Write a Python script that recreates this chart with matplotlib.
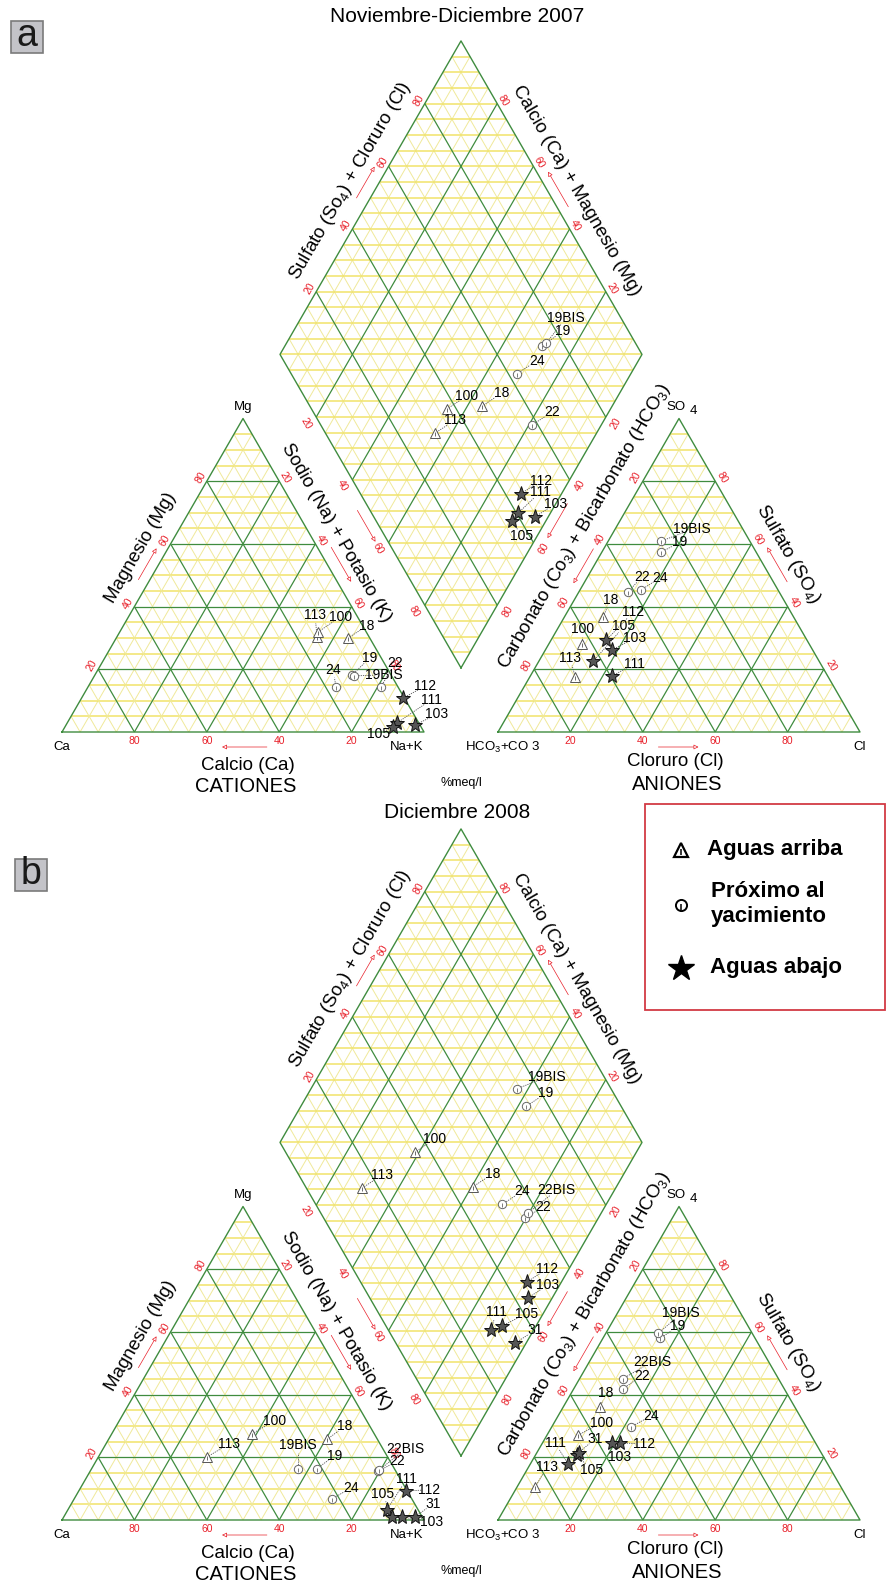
import numpy as np
import matplotlib.pyplot as plt
from matplotlib.patches import Rectangle

plt.rcParams['font.family'] = ['Liberation Sans', 'DejaVu Sans']
plt.rcParams['mathtext.fontset'] = 'custom'
plt.rcParams['mathtext.rm'] = 'Liberation Sans'
plt.rcParams['mathtext.it'] = 'Liberation Sans:italic'

# ---------------- data (% meq/l) ----------------
# panel a : Noviembre-Diciembre 2007
names_a = ['113', '100', '18', '19', '19BIS', '24', '22', '112', '111', '103', '105']
group_a = ['arriba', 'arriba', 'arriba', 'prox', 'prox', 'prox', 'prox',
           'abajo', 'abajo', 'abajo', 'abajo']
ca_a = [14.4, 13.3, 6.0, 10.8, 10.4, 17.1, 4.7, 0.4, 6.0, 1.4, 7.8]
mg_a = [30.3, 31.9, 30.0, 18.2, 17.9, 14.4, 14.4, 10.8, 2.9, 2.2, 1.6]
so4_a = [17.6, 28.2, 36.8, 57.3, 60.8, 45.4, 44.8, 29.2, 17.9, 26.2, 22.5]
cl_a = [12.5, 9.2, 10.7, 16.3, 14.5, 16.9, 13.6, 15.2, 22.6, 18.4, 15.0]

# panel b : Diciembre 2008
names_b = ['113', '100', '18', '19', '19BIS', '24', '22', '22BIS', '112', '111', '103', '105', '31']
group_b = ['arriba', 'arriba', 'arriba', 'prox', 'prox', 'prox', 'prox', 'prox',
           'abajo', 'abajo', 'abajo', 'abajo', 'abajo']
ca_b = [49.9, 33.7, 14.0, 21.4, 26.7, 21.9, 4.8, 4.3, 0.2, 8.8, 5.7, 8.4, 2.0]
mg_b = [20.1, 27.5, 25.7, 16.4, 16.4, 6.8, 15.6, 16.0, 9.3, 3.1, 1.0, 1.0, 1.0]
so4_b = [10.5, 27.1, 35.9, 57.9, 59.5, 29.7, 41.9, 45.1, 24.6, 17.8, 24.6, 20.7, 21.5]
cl_b = [5.0, 8.6, 10.2, 15.8, 14.5, 21.9, 13.6, 12.0, 21.4, 10.5, 19.1, 11.4, 11.5]

tick_vals = [20, 40, 60, 80]
legend_labels = ['Aguas arriba', 'Próximo al\nyacimiento', 'Aguas abajo']

# label offsets (pixels) of the sample names, default (20, -13)
lab_cat_a = {'113': (-2, -22), '100': (22, -15), '18': (19, -12), '19': (18, -17),
             '19BIS': (30, -1), '24': (-3, -17), '22': (14, -24), '112': (22, -12),
             '111': (34, -23), '103': (22, -11), '105': (-14, 7)}
lab_an_a = {'19BIS': (31, -12), '19': (19, -10), '22': (14, -15), '24': (19, -12),
            '18': (7, -17), '112': (27, -28), '105': (31, -35), '103': (23, -12),
            '100': (0, -15), '113': (-5, -19), '111': (22, -12)}
lab_dia_a = {'105': (10, 15), '111': (22, -21), '19BIS': (20, -25), '19': (21, -15)}
lab_cat_b = {'100': (22, -13), '113': (22, -13), '19BIS': (0, -24), '18': (18, -13),
             '19': (18, -13), '24': (19, -11), '22': (19, -10), '22BIS': (26, -21),
             '112': (23, -1), '111': (20, -31), '105': (-9, -23), '31': (18, -13),
             '103': (30, 5)}
lab_an_b = {'19BIS': (23, -20), '19': (18, -12), '22BIS': (29, -17), '22': (19, -13),
            '18': (6, -14), '24': (20, -11), '100': (23, -12), '31': (17, -14),
            '111': (-13, -21), '112': (24, 1), '103': (8, 14), '113': (12, -20),
            '105': (15, 15)}
lab_dia_b = {'22BIS': (29, -23), '22': (19, -11), '111': (6, -18), '105': (24, -12),
             '19BIS': (30, -12)}

# ---------------- style ----------------
YEL_H = '#f1e36a'
YEL_D = '#f0e99a'
GREEN = '#3f8c3f'
RED = '#e8202a'
L = 362.0
H = L * np.sqrt(3) / 2

fig = plt.figure(figsize=(8.87, 15.87), dpi=100)
ax = fig.add_axes([0, 0, 1, 1])
ax.set_xlim(0, 887)
ax.set_ylim(1587, 0)
ax.axis('off')

P = np.array


def outward(a, b, c):
    u = (b - a) / np.linalg.norm(b - a)
    n = P([-u[1], u[0]])
    if np.dot(n, (a + b) / 2 - c) < 0:
        n = -n
    return n


def seg(p, q, color, lw, z=1):
    ax.plot([p[0], q[0]], [p[1], q[1]], color=color, lw=lw, zorder=z,
            solid_capstyle='butt')


def tri_grid(A, B, T):
    for k in range(1, 20):
        t = k / 20
        g = (k % 4 == 0)
        col_d, col_h = (GREEN, GREEN) if g else (YEL_D, YEL_H)
        z = 2 if g else 1
        lw = 0.9 if g else 0.7
        seg(A + t * (T - A), B + t * (T - B), col_h, lw if g else 1.1, z)
        seg(A + t * (B - A), T + t * (B - T), col_d, lw, z)
        seg(A + t * (B - A), A + t * (T - A), col_d, lw, z)
    ax.plot([A[0], B[0], T[0], A[0]], [A[1], B[1], T[1], A[1]], color=GREEN, lw=1.0, zorder=3)


def dia_grid(Bm, Lf, Tp, Rt):
    for k in range(1, 20):
        t = k / 20
        g = (k % 4 == 0)
        col = GREEN if g else YEL_D
        z = 2 if g else 1
        p = Bm + t * (Lf - Bm)
        seg(p, p + (Rt - Bm), col, 0.9 if g else 0.7, z)
        p = Bm + t * (Rt - Bm)
        seg(p, p + (Lf - Bm), col, 0.9 if g else 0.7, z)
    for m in range(1, 40):
        v = m / 20
        hw = L / 2 * (v if v <= 1 else 2 - v)
        y = Bm[1] - H * v
        seg((Bm[0] - hw, y), (Bm[0] + hw, y), YEL_H, 1.1, 1)
    ax.plot([Bm[0], Lf[0], Tp[0], Rt[0], Bm[0]], [Bm[1], Lf[1], Tp[1], Rt[1], Bm[1]],
            color=GREEN, lw=1.0, zorder=3)


def side_ticks(a, b, c, vals, fracs, d, rot):
    n = outward(a, b, c)
    for v, f in zip(vals, fracs):
        p = a + f * (b - a) + d * n
        ax.text(p[0], p[1], str(v), color=RED, fontsize=7.5, rotation=rot,
                ha='center', va='center', zorder=4)


def side_text(a, b, c, f, d, s, rot, size=13.5):
    n = outward(a, b, c)
    p = a + f * (b - a) + d * n
    ax.text(p[0], p[1], s, fontsize=size, rotation=rot, ha='center', va='center',
            rotation_mode='anchor', zorder=4)


def side_arrow(a, b, c, f0, f1, d):
    n = outward(a, b, c)
    p0 = a + f0 * (b - a) + d * n
    p1 = a + f1 * (b - a) + d * n
    ax.annotate('', xy=p1, xytext=p0, zorder=4,
                arrowprops=dict(arrowstyle='-|>', color=RED, lw=0.5,
                                mutation_scale=7, fc='white', shrinkA=0, shrinkB=0))


def marker(x, y, grp):
    if grp == 'arriba':
        ax.plot(x, y, marker='^', ms=6.5, mfc='white', mec='#555555', mew=0.7, zorder=6)
        ax.plot(x, y + 1, marker='|', ms=3, mec='#555555', mew=0.6, zorder=6)
    elif grp == 'prox':
        ax.plot(x, y, marker='o', ms=6, mfc='white', mec='#666666', mew=0.7, zorder=6)
        ax.plot(x, y + 1, marker='|', ms=3, mec='#666666', mew=0.6, zorder=6)
    else:
        ax.plot(x, y, marker='*', ms=11, mfc='#555555', mec='#111111', mew=0.7, zorder=6)


def label(x, y, s, off):
    dx, dy = off
    r = np.hypot(dx, dy)
    k = max(0.0, 1 - 8.0 / r)
    ax.plot([x, x + k * dx], [y, y + k * dy], color='#555555', lw=0.6,
            ls=(0, (1.5, 1.2)), zorder=5)
    ax.text(x + dx, y + dy, s, fontsize=10, ha='center', va='center', zorder=7)


def piper(y0, names, groups, ca, mg, so4, cl, lcat, lan, ldia, title, ty):
    cA, cB, cT = P([62.0, y0]), P([62.0 + L, y0]), P([62.0 + L / 2, y0 - H])
    aA, aB, aT = P([498.0, y0]), P([498.0 + L, y0]), P([498.0 + L / 2, y0 - H])
    gap = aA[0] - cB[0]
    Bm = P([(cB[0] + aA[0]) / 2, y0 - gap / 2 * np.sqrt(3)])
    Lf = Bm + P([-L / 2, -H])
    Rt = Bm + P([L / 2, -H])
    Tp = Bm + P([0, -2 * H])
    cc, ac, dc = (cA + cB + cT) / 3, (aA + aB + aT) / 3, (Bm + Tp) / 2

    tri_grid(cA, cB, cT)
    tri_grid(aA, aB, aT)
    dia_grid(Bm, Lf, Tp, Rt)

    fr = [v / 100 for v in tick_vals]
    for v in tick_vals:
        ax.text(cA[0] + L * (100 - v) / 100, y0 + 9, str(v), color=RED, fontsize=7.5,
                ha='center', va='center')
        ax.text(aA[0] + L * v / 100, y0 + 9, str(v), color=RED, fontsize=7.5,
                ha='center', va='center')
    side_ticks(cA, cT, cc, tick_vals, fr, 7, 60)
    side_ticks(cB, cT, cc, tick_vals, [1 - f for f in fr], 7, -60)
    side_ticks(aA, aT, ac, tick_vals, [1 - f for f in fr], 8, 60)
    side_ticks(aB, aT, ac, tick_vals, fr, 8, -60)
    side_ticks(Lf, Tp, dc, tick_vals, fr, 7, 60)
    side_ticks(Rt, Tp, dc, tick_vals, fr, 7, -60)
    side_ticks(Lf, Bm, dc, tick_vals, fr, 12, -60)
    side_ticks(Rt, Bm, dc, tick_vals, fr, 12, 60)

    # arrows
    ax.annotate('', xy=(cA[0] + L * 0.442, y0 + 15), xytext=(cA[0] + L * 0.566, y0 + 15),
                arrowprops=dict(arrowstyle='-|>', color=RED, lw=0.5, mutation_scale=7,
                                fc='white', shrinkA=0, shrinkB=0))
    ax.annotate('', xy=(aA[0] + L * 0.554, y0 + 15), xytext=(aA[0] + L * 0.443, y0 + 15),
                arrowprops=dict(arrowstyle='-|>', color=RED, lw=0.5, mutation_scale=7,
                                fc='white', shrinkA=0, shrinkB=0))
    side_arrow(cA, cT, cc, 0.47, 0.57, 10)
    side_arrow(cB, cT, cc, 0.57, 0.46, 12)
    side_arrow(Lf, Bm, dc, 0.48, 0.58, 11)
    side_arrow(aA, aT, ac, 0.57, 0.46, 9)
    side_arrow(Rt, Bm, dc, 0.46, 0.57, 10)
    side_arrow(aB, aT, ac, 0.46, 0.57, 12)
    side_arrow(Lf, Tp, dc, 0.48, 0.58, 12)
    side_arrow(Rt, Tp, dc, 0.455, 0.567, 10)

    # axis titles
    side_text(cA, cT, cc, 0.55, 24, 'Magnesio (Mg)', 60)
    side_text(cB, cT, cc, 0.597, 23, 'Sodio (Na) + Potasio (K)', -60)
    side_text(aA, aT, ac, 0.613, 28, r'Carbonato (Co$_3$) + Bicarbonato (HCO$_3$)', 60)
    side_text(aB, aT, ac, 0.524, 26, r'Sulfato (SO$_4$)', -60)
    side_text(Lf, Tp, dc, 0.513, 26, r'Sulfato (So$_4$) + Cloruro (Cl)', 60)
    side_text(Tp, Rt, dc, 0.516, 25, 'Calcio (Ca) + Magnesio (Mg)', -60)
    ax.text(cT[0] + 5, y0 + 34, 'Calcio (Ca)', fontsize=13.5, ha='center', va='center')
    ax.text(cT[0] + 3, y0 + 55, 'CATIONES', fontsize=14.5, ha='center', va='center')
    ax.text(aT[0] - 4, y0 + 30, 'Cloruro (Cl)', fontsize=13.5, ha='center', va='center')
    ax.text(aT[0] - 2, y0 + 52, 'ANIONES', fontsize=14.5, ha='center', va='center')
    ax.text(Bm[0], y0 + 51, '%meq/l', fontsize=9, ha='center', va='center')
    ax.text(cT[0], cT[1] - 11, 'Mg', fontsize=9.5, ha='center', va='center')
    ax.text(cA[0], y0 + 15, 'Ca', fontsize=9.5, ha='center', va='center')
    ax.text(cB[0] - 17, y0 + 15, 'Na+K', fontsize=9.5, ha='center', va='center')
    ax.text(aT[0] - 3, aT[1] - 11, 'SO', fontsize=9.5, ha='center', va='center')
    ax.text(aT[0] + 14, aT[1] - 7, '4', fontsize=9.5, ha='center', va='center')
    ax.text(aA[0] + 5, y0 + 15, 'HCO$_3$+CO 3', fontsize=9.5, ha='center', va='center')
    ax.text(aB[0], y0 + 15, 'Cl', fontsize=9.5, ha='center', va='center')
    ax.text(Bm[0] - 4, ty, title, fontsize=15, ha='center', va='center')

    # samples
    for i, s in enumerate(names):
        nak = 100 - ca[i] - mg[i]
        x = cA[0] + L * (nak + mg[i] / 2) / 100
        y = y0 - H * mg[i] / 100
        marker(x, y, groups[i])
        label(x, y, s, lcat.get(s, (20, -13)))
        x = aA[0] + L * (cl[i] + so4[i] / 2) / 100
        y = y0 - H * so4[i] / 100
        marker(x, y, groups[i])
        label(x, y, s, lan.get(s, (20, -13)))
        C = ca[i] + mg[i]
        S = so4[i] + cl[i]
        x = Bm[0] + L / 2 * (S - C) / 100
        y = Bm[1] - H * (S + C) / 100
        marker(x, y, groups[i])
        label(x, y, s, ldia.get(s, (20, -13)))


piper(732, names_a, group_a, ca_a, mg_a, so4_a, cl_a, lab_cat_a, lab_an_a, lab_dia_a,
      'Noviembre-Diciembre 2007', 17)
piper(1520, names_b, group_b, ca_b, mg_b, so4_b, cl_b, lab_cat_b, lab_an_b, lab_dia_b,
      'Diciembre 2008', 813)

# panel letters
for (bx, by), s in zip([(11, 21), (15, 859)], ['a', 'b']):
    ax.add_patch(Rectangle((bx, by), 32, 32, fc='#c3c3c8', ec='#7a7a7a', lw=1.2, zorder=5))
    ax.text(bx + 16, by + 15, s, fontsize=27, ha='center', va='center', color='#1a1a1a', zorder=6)

# legend
ax.add_patch(Rectangle((645, 804), 240, 206, fc='white', ec='#d23a44', lw=1.3, zorder=5))
ly = [850, 905, 968]
for grp, yy in zip(['arriba', 'prox', 'abajo'], ly):
    if grp == 'arriba':
        ax.plot(681, yy, marker='^', ms=10, mfc='white', mec='black', mew=1.6, zorder=7)
        ax.plot(681, yy + 1.5, marker='|', ms=5, mec='black', mew=1.1, zorder=7)
    elif grp == 'prox':
        ax.plot(681, yy, marker='o', ms=8, mfc='white', mec='black', mew=1.4, zorder=7)
        ax.plot(681, yy + 2, marker='|', ms=4, mec='black', mew=1.1, zorder=7)
    else:
        ax.plot(681, yy, marker='*', ms=19, mfc='black', mec='black', zorder=7)
ax.text(707, ly[0], legend_labels[0], fontsize=16, fontweight='bold', ha='left', va='center', zorder=7)
ax.text(711, ly[1] - 1, legend_labels[1], fontsize=16, fontweight='bold', ha='left', va='center',
        linespacing=1.25, zorder=7)
ax.text(710, ly[2], legend_labels[2], fontsize=16, fontweight='bold', ha='left', va='center', zorder=7)

fig.savefig('out.png', dpi=100)
